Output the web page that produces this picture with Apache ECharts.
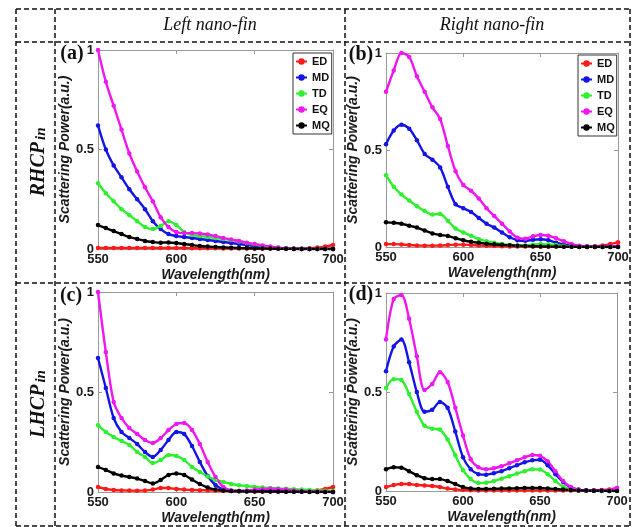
<!DOCTYPE html>
<html>
<head>
<meta charset="utf-8">
<script src="https://cdn.jsdelivr.net/npm/echarts@6.0.0/dist/echarts.min.js"></script>
<style>
html, body { margin: 0; padding: 0; background: #fff; }
#main { width: 634px; height: 527px; }
</style>
</head>
<body>
<div id="main"></div>
<script>
// wavelength samples (nm)
const wl = [550,555,560,565,570,575,580,585,590,595,600,605,610,615,620,625,630,635,640,645,650,655,660,665,670,675,680,685,690,695,700];
const names = ['ED', 'MD', 'TD', 'EQ', 'MQ'];
const colors = ['#ff1a1a', '#1414e6', '#2ef02e', '#f016f0', '#000000'];

// (a) RHCP in, left nano-fin
const edA = [0.005,0.005,0.005,0.005,0.005,0.005,0.005,0.005,0.005,0.005,0.005,0.005,0.004,0.004,0.004,0.004,0.003,0.003,0.003,0.003,0.003,0.003,0.003,0.003,0.003,0.003,0.003,0.004,0.007,0.012,0.02];
const mdA = [0.62,0.5,0.42,0.36,0.3,0.25,0.2,0.14,0.1,0.075,0.065,0.06,0.055,0.05,0.045,0.04,0.035,0.03,0.025,0.02,0.015,0.011,0.008,0.005,0.003,0.001,0,0,0,0,0];
const tdA = [0.33,0.28,0.24,0.2,0.17,0.14,0.11,0.1,0.115,0.14,0.12,0.085,0.07,0.065,0.06,0.055,0.05,0.045,0.038,0.03,0.022,0.015,0.01,0.005,0.002,0,0,0,0,0,0];
const eqA = [1.0,0.84,0.72,0.6,0.48,0.39,0.31,0.24,0.16,0.11,0.085,0.08,0.08,0.078,0.073,0.065,0.055,0.048,0.04,0.032,0.025,0.018,0.012,0.007,0.003,0.001,0,0,0,0,0];
const mqA = [0.12,0.105,0.09,0.075,0.06,0.05,0.04,0.035,0.032,0.033,0.03,0.025,0.02,0.015,0.012,0.01,0.008,0.006,0.005,0.004,0.003,0.002,0.002,0.001,0.001,0,0,0,0,0,0];

// (b) RHCP in, right nano-fin
const edB = [0.015,0.015,0.013,0.01,0.008,0.007,0.007,0.008,0.01,0.012,0.012,0.01,0.008,0.006,0.005,0.004,0.003,0.002,0.002,0.002,0.002,0.002,0.002,0.002,0.002,0.002,0.003,0.004,0.008,0.015,0.025];
const mdB = [0.53,0.6,0.63,0.61,0.55,0.48,0.45,0.41,0.31,0.22,0.2,0.18,0.15,0.12,0.1,0.075,0.05,0.035,0.032,0.037,0.04,0.035,0.022,0.012,0.006,0.003,0.002,0.001,0.001,0.001,0.001];
const tdB = [0.37,0.31,0.27,0.24,0.21,0.185,0.168,0.17,0.135,0.095,0.075,0.058,0.04,0.03,0.022,0.015,0.01,0.008,0.008,0.012,0.015,0.013,0.01,0.005,0.003,0.001,0,0,0,0,0];
const eqB = [0.8,0.91,1.0,0.98,0.88,0.8,0.72,0.66,0.52,0.39,0.32,0.29,0.25,0.2,0.16,0.12,0.08,0.048,0.042,0.055,0.062,0.058,0.045,0.03,0.015,0.007,0.003,0.002,0.002,0.003,0.005];
const mqB = [0.127,0.125,0.12,0.11,0.1,0.085,0.07,0.062,0.057,0.045,0.035,0.027,0.022,0.017,0.014,0.011,0.009,0.007,0.005,0.004,0.003,0.002,0.002,0.001,0.001,0,0,0,0,0,0];

// (c) LHCP in, left nano-fin
const edC = [0.025,0.015,0.01,0.008,0.007,0.006,0.008,0.012,0.02,0.02,0.015,0.012,0.01,0.009,0.008,0.007,0.006,0.005,0.005,0.004,0.004,0.003,0.003,0.003,0.003,0.003,0.003,0.004,0.008,0.015,0.025];
const mdC = [0.67,0.52,0.37,0.3,0.27,0.24,0.2,0.175,0.21,0.26,0.3,0.29,0.23,0.15,0.08,0.035,0.012,0.006,0.005,0.005,0.005,0.005,0.005,0.004,0.003,0.003,0.002,0.002,0.001,0.001,0];
const tdC = [0.334,0.3,0.275,0.255,0.235,0.2,0.175,0.145,0.16,0.185,0.18,0.16,0.125,0.1,0.078,0.06,0.05,0.04,0.034,0.03,0.025,0.022,0.02,0.018,0.016,0.014,0.012,0.01,0.008,0.006,0.005];
const eqC = [1.0,0.7,0.45,0.37,0.32,0.29,0.26,0.245,0.27,0.31,0.34,0.345,0.31,0.24,0.15,0.075,0.025,0.008,0.005,0.008,0.012,0.015,0.016,0.015,0.012,0.008,0.005,0.003,0.002,0.001,0];
const mqC = [0.125,0.11,0.093,0.082,0.075,0.067,0.055,0.042,0.06,0.085,0.092,0.085,0.062,0.04,0.022,0.012,0.007,0.005,0.004,0.003,0.003,0.002,0.002,0.002,0.001,0.001,0.001,0,0,0,0];

// (d) LHCP in, right nano-fin
const edD = [0.02,0.03,0.035,0.035,0.03,0.028,0.025,0.02,0.012,0.008,0.005,0.004,0.003,0.003,0.003,0.003,0.003,0.003,0.003,0.003,0.003,0.003,0.003,0.002,0.002,0.002,0.002,0.003,0.005,0.008,0.015];
const mdD = [0.605,0.73,0.765,0.65,0.5,0.4,0.41,0.45,0.42,0.3,0.17,0.11,0.085,0.082,0.09,0.1,0.115,0.13,0.145,0.155,0.158,0.13,0.085,0.045,0.018,0.007,0.003,0.002,0.001,0.001,0.001];
const tdD = [0.52,0.565,0.56,0.49,0.4,0.33,0.315,0.31,0.26,0.18,0.105,0.06,0.04,0.042,0.05,0.062,0.075,0.088,0.1,0.11,0.108,0.085,0.05,0.022,0.008,0.003,0.001,0,0,0,0];
const eqD = [0.765,0.97,0.99,0.87,0.68,0.51,0.54,0.6,0.55,0.42,0.28,0.16,0.12,0.11,0.115,0.125,0.14,0.155,0.17,0.182,0.178,0.15,0.1,0.05,0.02,0.006,0.002,0.002,0.002,0.005,0.015];
const mqD = [0.11,0.12,0.118,0.1,0.08,0.065,0.06,0.06,0.05,0.035,0.02,0.013,0.01,0.01,0.011,0.012,0.013,0.014,0.015,0.015,0.015,0.013,0.01,0.007,0.005,0.003,0.002,0.001,0.001,0,0];

const xTicks = { min: 550, max: 700, interval: 50 };
const yTicks = { min: 0, max: 1, interval: 0.5 };

const sans = 'Liberation Sans, Arial, sans-serif';
const serif = 'Liberation Serif, Times New Roman, serif';

const panels = [
  { grid: { left: 98, top: 50, width: 235, height: 199 }, data: [edA, mdA, tdA, eqA, mqA], tag: '(a)', tagX: 72, tagY: 54 },
  { grid: { left: 386, top: 53, width: 232, height: 194 }, data: [edB, mdB, tdB, eqB, mqB], tag: '(b)', tagX: 361, tagY: 55 },
  { grid: { left: 98, top: 292, width: 235, height: 200 }, data: [edC, mdC, tdC, eqC, mqC], tag: '(c)', tagX: 71, tagY: 296 },
  { grid: { left: 386, top: 293, width: 231, height: 198 }, data: [edD, mdD, tdD, eqD, mqD], tag: '(d)', tagX: 361, tagY: 295 }
];

const frame = { show: true, onZero: false, lineStyle: { color: '#9a9a9a', width: 1 } };
const inTick = { show: true, inside: true, length: 4, lineStyle: { color: '#9a9a9a' } };
const numLabel = { color: '#1a1a1a', fontFamily: sans, fontWeight: 'bold', fontSize: 13 };
const nameStyle = { color: '#1a1a1a', fontFamily: sans, fontWeight: 'bold', fontStyle: 'italic', fontSize: 14 };

const grids = [], xAxes = [], yAxes = [], series = [], graphics = [];

panels.forEach((p, i) => {
  grids.push(p.grid);
  xAxes.push({
    type: 'value', gridIndex: i, position: 'bottom', ...xTicks,
    axisLine: frame, axisTick: inTick, splitLine: { show: false },
    axisLabel: { ...numLabel, margin: 4 },
    name: 'Wavelength(nm)', nameLocation: 'middle', nameGap: 19, nameTextStyle: nameStyle
  });
  xAxes.push({
    type: 'value', gridIndex: i, position: 'top', ...xTicks,
    axisLine: frame, axisTick: inTick, splitLine: { show: false }, axisLabel: { show: false }
  });
  yAxes.push({
    type: 'value', gridIndex: i, position: 'left', ...yTicks,
    axisLine: frame, axisTick: inTick, splitLine: { show: false },
    axisLabel: { ...numLabel, margin: 4 },
    name: 'Scattering Power(a.u.)', nameLocation: 'middle', nameGap: 24, nameTextStyle: nameStyle
  });
  yAxes.push({
    type: 'value', gridIndex: i, position: 'right', ...yTicks,
    axisLine: frame, axisTick: inTick, splitLine: { show: false }, axisLabel: { show: false }
  });
  p.data.forEach((arr, k) => {
    series.push({
      name: names[k], type: 'line', xAxisIndex: i * 2, yAxisIndex: i * 2,
      data: wl.map((x, j) => [x, arr[j]]),
      smooth: 0.3, symbol: 'circle', symbolSize: 4.5, showSymbol: true,
      lineStyle: { color: colors[k], width: 2.4 },
      itemStyle: { color: colors[k] },
      emphasis: { disabled: true }
    });
  });
  graphics.push({
    type: 'text', x: p.tagX, y: p.tagY,
    style: { text: p.tag, fill: '#111', font: 'bold 20px ' + serif, align: 'center', verticalAlign: 'middle' }
  });
});

// dashed table frame
const dash = { stroke: '#111', lineWidth: 1.5, lineDash: [5, 3] };
[16, 55, 345, 630].forEach(x => graphics.push({ type: 'line', shape: { x1: x, y1: 9, x2: x, y2: 526 }, style: dash }));
[9, 42, 283, 526].forEach(y => graphics.push({ type: 'line', shape: { x1: 16, y1: y, x2: 630, y2: y }, style: dash }));

// column headers
graphics.push({ type: 'text', x: 210, y: 25, style: { text: 'Left nano-fin', fill: '#111', font: 'italic 18px ' + serif, align: 'center', verticalAlign: 'middle' } });
graphics.push({ type: 'text', x: 492, y: 25, style: { text: 'Right nano-fin', fill: '#111', font: 'italic 18px ' + serif, align: 'center', verticalAlign: 'middle' } });

// row headers (rotated)
const rowRich = {
  m: { fontFamily: serif, fontStyle: 'italic', fontWeight: 'bold', fontSize: 20, fill: '#111', lineHeight: 26, verticalAlign: 'bottom' },
  s: { fontFamily: serif, fontStyle: 'italic', fontWeight: 'bold', fontSize: 15, fill: '#111', lineHeight: 20, verticalAlign: 'bottom', padding: [0, 0, 0, 2] }
};
[['RHCP', 162], ['LHCP', 404]].forEach(([t, y]) => graphics.push({
  type: 'text', x: 36, y: y, rotation: Math.PI / 2,
  style: { text: '{m|' + t + '}{s|in}', rich: rowRich, align: 'center', verticalAlign: 'middle' }
}));

const legendBase = {
  orient: 'vertical', data: names, itemWidth: 11, itemHeight: 8, itemGap: 5,
  padding: [3, 2, 3, 2], borderColor: '#333', borderWidth: 1, backgroundColor: '#fff',
  selectedMode: false,
  textStyle: { fontFamily: sans, fontWeight: 'bold', fontSize: 11, color: '#111' }
};

const chart = echarts.init(document.getElementById('main'));
chart.setOption({
  animation: false,
  backgroundColor: '#fff',
  grid: grids,
  xAxis: xAxes,
  yAxis: yAxes,
  legend: [
    { ...legendBase, left: 293, top: 53 },
    { ...legendBase, left: 578, top: 55 }
  ],
  series: series,
  graphic: graphics
});
</script>
</body>
</html>
